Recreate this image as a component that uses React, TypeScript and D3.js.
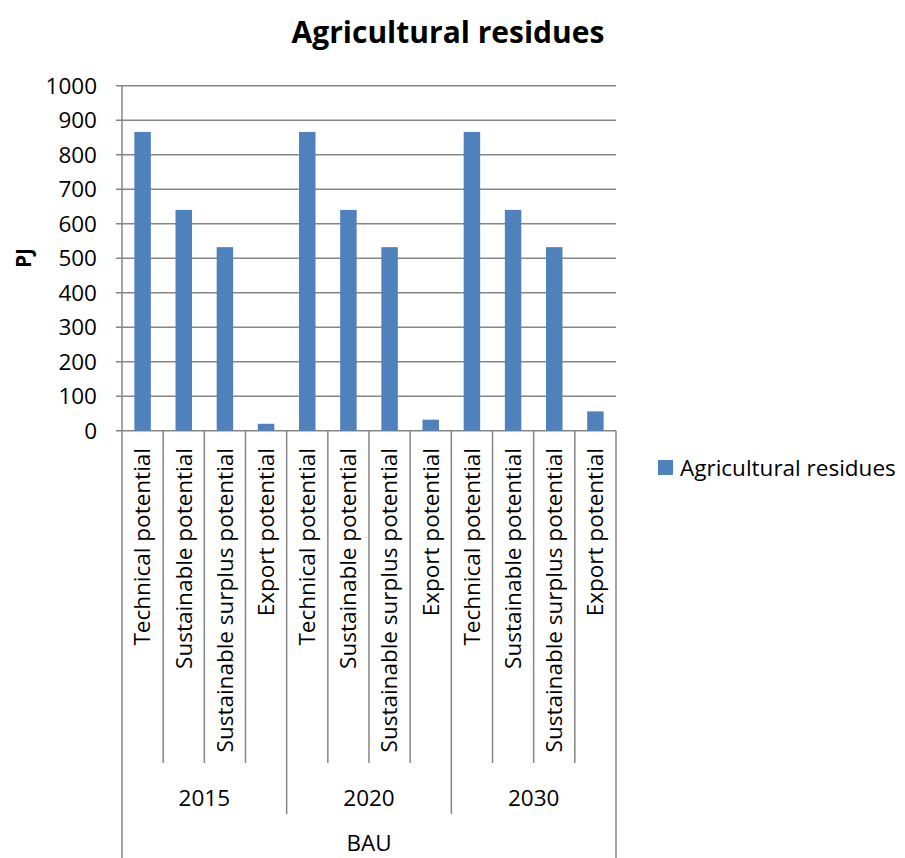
import React from "react";
import * as d3 from "d3";

const groups = ["2015", "2020", "2030"];
const categories = ["Technical potential", "Sustainable potential", "Sustainable surplus potential", "Export potential"];
const values2015 = [866, 640, 532, 20];
const values2020 = [866, 640, 532, 32];
const values2030 = [866, 640, 532, 56];
const yTicks = [0, 100, 200, 300, 400, 500, 600, 700, 800, 900, 1000];
const seriesName = "Agricultural residues";
const outerLabel = "BAU";

const W = 905, H = 858;
const left = 122, right = 616, top = 85.7, bottom = 430.7;
const font = "'Open Sans', sans-serif";
const grid = "#868686";
const barColor = "#4f81bd";
const fs = 22.5;

export default function App() {
  const allVals = [values2015, values2020, values2030];
  const rows = groups.flatMap((g, gi) => categories.map((c, ci) => ({ key: `${g}-${ci}`, g, c, v: allVals[gi][ci], gi, ci })));
  const x = d3.scaleBand<string>().domain(rows.map(r => r.key)).range([left, right]).paddingInner(0.6).paddingOuter(0.3);
  const step = (right - left) / rows.length;
  const y = d3.scaleLinear().domain([0, 1000]).range([bottom, top]);
  const gx = d3.scaleBand<string>().domain(groups).range([left, right]);

  return (
    <svg width={W} height={H} style={{ position: "absolute", left: 0, top: 0, display: "block" }}>
      <text x={448} y={43} textAnchor="middle" fontFamily={font} fontWeight="bold" fontSize={30}>{seriesName}</text>
      <text transform={`translate(24,258) rotate(-90)`} textAnchor="middle" dy="0.35em" fontFamily={font} fontWeight="bold" fontSize={21}>PJ</text>
      {yTicks.map(t => (
        <g key={t}>
          <line x1={left - 6} x2={right} y1={y(t)} y2={y(t)} stroke={grid} strokeWidth={1.5} />
          <text x={97} y={y(t)} dy="0.35em" textAnchor="end" fontFamily={font} fontSize={fs}>{t}</text>
        </g>
      ))}
      <line x1={left} x2={left} y1={top} y2={H} stroke={grid} strokeWidth={1.5} />
      <line x1={right} x2={right} y1={bottom} y2={H} stroke={grid} strokeWidth={1.5} />
      {rows.map((r) => (
        <rect key={r.key} x={x(r.key)} y={y(r.v)} width={x.bandwidth()} height={bottom - y(r.v)} fill={barColor} />
      ))}
      {rows.map((r, i) => i > 0 && (
        <line key={"t" + r.key} x1={left + i * step} x2={left + i * step} y1={bottom} y2={r.ci === 0 ? 814 : 763} stroke={grid} strokeWidth={1.5} />
      ))}
      {rows.map((r) => (
        <text key={"l" + r.key} transform={`translate(${(x(r.key) as number) + x.bandwidth() / 2},448) rotate(-90)`} dy="0.35em" textAnchor="end" fontFamily={font} fontSize={fs}>{r.c}</text>
      ))}
      {groups.map(g => (
        <text key={g} x={(gx(g) as number) + gx.bandwidth() / 2} y={806} textAnchor="middle" fontFamily={font} fontSize={fs}>{g}</text>
      ))}
      <text x={(left + right) / 2} y={851} textAnchor="middle" fontFamily={font} fontSize={fs}>{outerLabel}</text>
      <rect x={658} y={460} width={15} height={15} fill={barColor} />
      <text x={680} y={468} dy="0.35em" fontFamily={font} fontSize={fs}>{seriesName}</text>
    </svg>
  );
}
